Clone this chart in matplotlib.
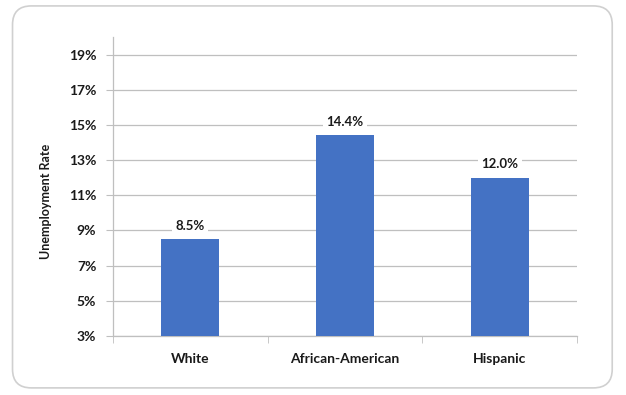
import matplotlib
matplotlib.use("Agg")
import matplotlib.pyplot as plt
from matplotlib.patches import FancyBboxPatch

# --- data ---
groups = ["White", "African-American", "Hispanic"]
rates = [8.5, 14.4, 12.0]
labels = ["8.5%", "14.4%", "12.0%"]
yticks = [3, 5, 7, 9, 11, 13, 15, 17, 19]

plt.rcParams['font.family'] = ['Lato', 'DejaVu Sans']

fig = plt.figure(figsize=(6.26, 3.95), dpi=100)

# rounded outer frame
frame = FancyBboxPatch((0.02, 0.018), 0.958, 0.967, boxstyle="round,pad=0,rounding_size=0.03",
                       transform=fig.transFigure, facecolor="none", edgecolor="#D0D0D0",
                       linewidth=1.2, mutation_aspect=626/395, zorder=-1)
fig.patches.append(frame)

ax = fig.add_axes([0.1805, 0.1494, 0.7412, 0.757])
ax.patch.set_alpha(0)
x = range(len(groups))
ax.bar(x, rates, width=0.375, color="#4472C4", bottom=0, zorder=3)

for i, (v, t) in enumerate(zip(rates, labels)):
    ax.text(i, v + 0.75, t, ha="center", va="center", fontsize=9.5, fontweight="bold",
            color="#1a1a1a", zorder=4,
            bbox=dict(facecolor="white", edgecolor="none", pad=2.5))

ax.set_ylim(3, 20)
ax.set_xlim(-0.5, 2.5)
ax.set_yticks(yticks)
ax.set_yticklabels([f"{t}%" for t in yticks], fontsize=10, fontweight="bold", color="#1a1a1a")
ax.set_xticks(list(x))
ax.set_xticklabels(groups, fontsize=10, fontweight="bold", color="#1a1a1a")
ax.set_xticks([-0.5, 0.5, 1.5, 2.5], minor=True)
ax.tick_params(axis="x", which="major", length=0, pad=12)
ax.tick_params(axis="x", which="minor", length=5, color="#BFBFBF")
ax.tick_params(axis="y", length=5, color="#BFBFBF", pad=7)

ax.yaxis.grid(True, color="#BFBFBF", linewidth=0.9, zorder=0)
ax.set_axisbelow(True)
for s in ["top", "right"]:
    ax.spines[s].set_visible(False)
for s in ["left", "bottom"]:
    ax.spines[s].set_color("#BFBFBF")
    ax.spines[s].set_linewidth(0.9)

ax.set_ylabel("Unemployment Rate", fontsize=9, fontweight="bold", color="#1a1a1a")
ax.yaxis.set_label_coords(-0.131, 0.45)

fig.savefig("out.png", dpi=100)
